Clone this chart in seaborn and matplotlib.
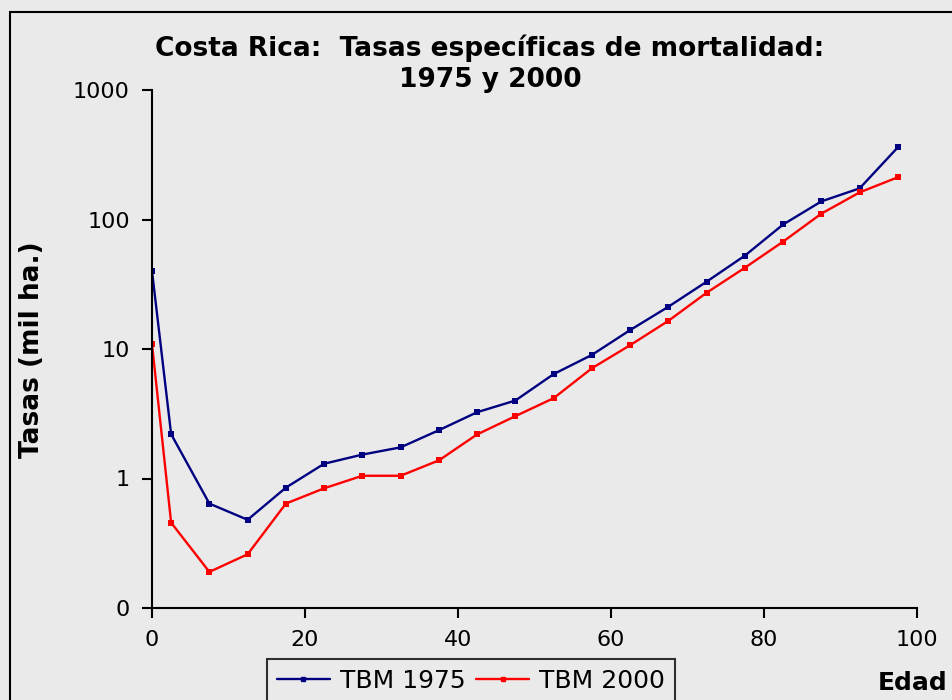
import pandas as pd
import matplotlib.pyplot as plt
import seaborn as sns
from matplotlib.patches import Rectangle
from matplotlib.lines import Line2D

# age groups (midpoints) and specific mortality rates (per thousand)
edad = [0, 2.5, 7.5, 12.5, 17.5, 22.5, 27.5, 32.5, 37.5, 42.5, 47.5,
        52.5, 57.5, 62.5, 67.5, 72.5, 77.5, 82.5, 87.5, 92.5, 97.5]
tbm_1975 = [40, 2.2, 0.64, 0.48, 0.85, 1.3, 1.53, 1.74, 2.36, 3.25, 4.0,
            6.4, 9.0, 14.0, 21.2, 33.1, 52.6, 91.5, 138, 174, 361]
tbm_2000 = [10.9, 0.456, 0.19, 0.26, 0.64, 0.84, 1.05, 1.05, 1.38, 2.19, 3.03,
            4.17, 7.1, 10.7, 16.5, 27.2, 42.4, 67.5, 111, 162, 212]
series = ['TBM 1975', 'TBM 2000']
colors = ['#000080', '#FF0000']
y_ticks = [0.1, 1, 10, 100, 1000]
y_labels = ['0', '1', '10', '100', '1000']
x_ticks = [0, 20, 40, 60, 80, 100]

df = pd.DataFrame({
    'Edad': edad * 2,
    'Tasa': tbm_1975 + tbm_2000,
    'Serie': [series[0]] * len(edad) + [series[1]] * len(edad),
})

bg = '#EAEAEA'
sns.set_style('white')
plt.rcParams['font.family'] = ['DejaVu Sans']
plt.rcParams['text.color'] = 'black'

fig = plt.figure(figsize=(9.53, 7.0), dpi=100, facecolor=bg)
ax = fig.add_axes([152 / 953, 1 - 608 / 700, 765 / 953, 518 / 700])
ax.set_facecolor(bg)

sns.lineplot(data=df, x='Edad', y='Tasa', hue='Serie', palette=colors,
             marker='s', markersize=4, markeredgewidth=0, linewidth=1.7,
             legend=False, ax=ax)

ax.set_yscale('log')
ax.set_ylim(0.1, 1000)
ax.set_xlim(0, 100)
ax.set_yticks(y_ticks)
ax.set_yticklabels(y_labels)
ax.minorticks_off()
ax.set_xticks(x_ticks)
ax.set_xlabel('')
ax.set_ylabel('')
ax.tick_params(axis='both', bottom=True, left=True, direction='out',
               length=7, width=1.5, labelsize=16, colors='black', pad=9)

for side in ['top', 'right']:
    ax.spines[side].set_visible(False)
for side in ['left', 'bottom']:
    ax.spines[side].set_color('black')
    ax.spines[side].set_linewidth(1.5)

# outer frame of the chart
fig.patches.append(Rectangle((10 / 953, -0.1), 1.2, 1.1 - 12 / 700,
                             transform=fig.transFigure, fill=False,
                             edgecolor='black', linewidth=1.5))

fig.text(490 / 953, 1 - 48 / 700, 'Costa Rica:  Tasas específicas de mortalidad:',
         ha='center', va='center', fontsize=19, fontweight='bold')
fig.text(490 / 953, 1 - 80 / 700, '1975 y 2000',
         ha='center', va='center', fontsize=19, fontweight='bold')
fig.text(32 / 953, 1 - 350 / 700, 'Tasas (mil ha.)', rotation=90,
         ha='center', va='center', fontsize=19, fontweight='bold')
fig.text(948 / 953, 1 - 683 / 700, 'Edad', ha='right', va='center',
         fontsize=18, fontweight='bold')

handles = [Line2D([], [], color=c, linewidth=1.7, marker='s', markersize=3)
           for c in colors]
leg = fig.legend(handles, series, loc='upper left', ncol=2,
                 bbox_to_anchor=(267 / 953, 1 - 659 / 700),
                 frameon=True, fancybox=False, fontsize=18,
                 handlelength=2.1, handletextpad=0.4, columnspacing=0.45,
                 borderpad=0.4, borderaxespad=0)
leg.get_frame().set_edgecolor('black')
leg.get_frame().set_facecolor(bg)
leg.get_frame().set_linewidth(1.5)

fig.savefig('out.png', dpi=100, facecolor=bg)
